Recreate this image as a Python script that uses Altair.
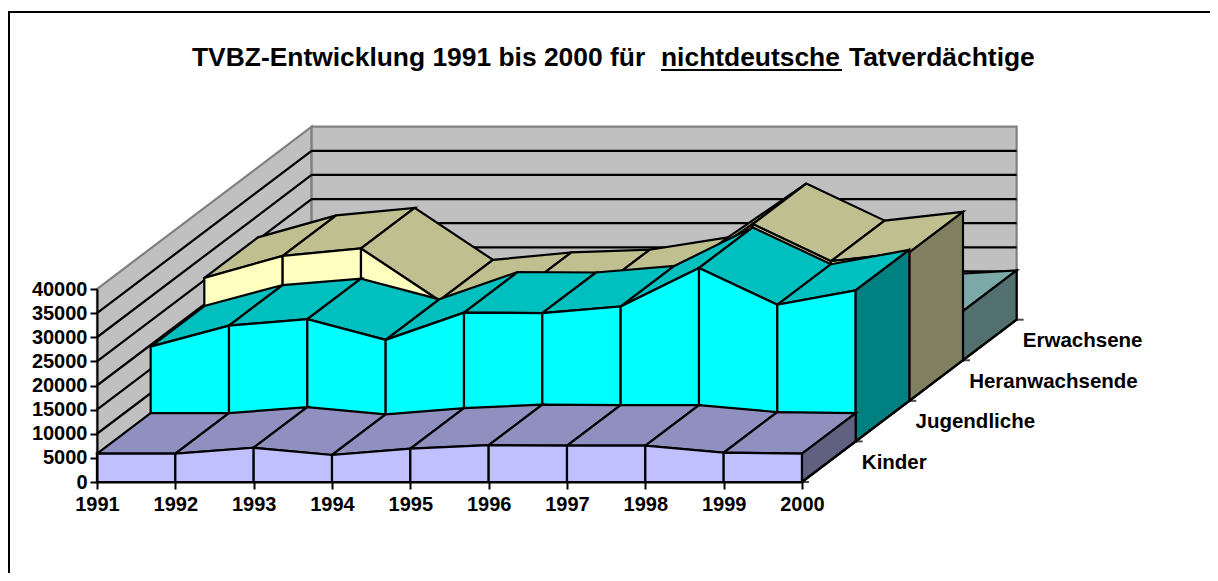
import altair as alt
import pandas as pd

years = [1991, 1992, 1993, 1994, 1995, 1996, 1997, 1998, 1999, 2000]
kinder = [5870, 5870, 7100, 5600, 6900, 7630, 7520, 7520, 6070, 5870]
jugendliche = [19650, 24000, 25340, 21040, 26700, 26600, 27960, 35950, 28320, 31300]
heranwachsende = [25470, 30040, 31580, 20800, 22350, 22900, 25470, 36630, 28940, 30750]
erwachsene = [8500, 8800, 9000, 8600, 8400, 8300, 8500, 9000, 9270, 10200]
series_names = ["Kinder", "Jugendliche", "Heranwachsende", "Erwachsene"]
series_values = [kinder, jugendliche, heranwachsende, erwachsene]
front_colors = ["#C0C0FF", "#00FFFF", "#FFFFC0", "#A6E0E0"]
top_colors = ["#9090C0", "#00BFBF", "#BFBF90", "#7CA8A8"]
side_colors = ["#606080", "#008080", "#808060", "#537070"]
y_ticks = [0, 5000, 10000, 15000, 20000, 25000, 30000, 35000, 40000]

# One depth step of the oblique projection, in axis units
DX = 0.685
DY = 8410
W, H = 705, 193
X0, Y0 = 97, 289
FONT = "Liberation Sans"
RIGHT_EDGE, BOTTOM_EDGE = 1210, 573


def proj(year, value, depth):
    return year + depth * DX, value + depth * DY


polys = []
poly_id = [0]


def add(fill, stroke, *pts):
    pts = list(pts) + [pts[0]]
    for i, (yr, val, d) in enumerate(pts):
        px, py = proj(yr, val, d)
        polys.append(dict(pid=poly_id[0], v=i, x=px, y=py, fill=fill, stroke=stroke))
    poly_id[0] += 1


a, b = years[0], years[-1]
# walls
add("#C0C0C0", "#808080", (a, 0, 0), (a, 40000, 0), (a, 40000, 4), (a, 0, 4))
add("#C0C0C0", "#808080", (a, 0, 4), (a, 40000, 4), (b, 40000, 4), (b, 0, 4))
wall_count = poly_id[0]
# series back to front
for k in [3, 2, 1, 0]:
    vals = series_values[k]
    for i in range(len(years) - 1):
        y1, y2, v1, v2 = years[i], years[i + 1], vals[i], vals[i + 1]
        add(top_colors[k], "#000000", (y1, v1, k), (y2, v2, k), (y2, v2, k + 1), (y1, v1, k + 1))
        add(front_colors[k], "#000000", (y1, 0, k), (y1, v1, k), (y2, v2, k), (y2, 0, k))
    add(side_colors[k], "#000000", (b, 0, k), (b, vals[-1], k), (b, vals[-1], k + 1), (b, 0, k + 1))

df = pd.DataFrame(polys)
walls_df = df[df.pid < wall_count]
body_df = df[df.pid >= wall_count]

xs = alt.Scale(domain=[1991, 2000], nice=False, zero=False)
ys = alt.Scale(domain=[0, 40000], nice=False, zero=False)
X = alt.X("x:Q", scale=xs, axis=alt.Axis(values=years, format="d", title=None, grid=False, tickSize=7,
                                         tickWidth=2, domainWidth=2, domainColor="#000", tickColor="#000",
                                         labelFont=FONT, labelFontWeight="bold", labelFontSize=20,
                                         labelColor="#000", labelPadding=5, labelFlush=False, zindex=1))
Y = alt.Y("y:Q", scale=ys, axis=alt.Axis(values=y_ticks, format="d", title=None, grid=False, tickSize=7,
                                         tickWidth=2, domainWidth=2, domainColor="#000", tickColor="#000",
                                         labelFont=FONT, labelFontWeight="bold", labelFontSize=20,
                                         labelColor="#000", labelPadding=3, zindex=1))


def polylayer(data, width):
    return alt.Chart(data).mark_line(strokeWidth=width, interpolate="linear", strokeJoin="miter", strokeCap="square").encode(
        x=X, y=Y,
        detail="pid:N", order="v:Q",
        fill=alt.Fill("fill:N", scale=None),
        stroke=alt.Stroke("stroke:N", scale=None),
    )


grid_rows = []
for t in y_ticks[1:-1]:
    pts = [proj(a, t, 0), proj(a, t, 4), proj(b, t, 4)]
    for i, (px, py) in enumerate(pts):
        grid_rows.append(dict(t=t, v=i, x=px, y=py))
grid = alt.Chart(pd.DataFrame(grid_rows)).mark_line(color="#000", strokeWidth=2.2).encode(
    x=X, y=Y, detail="t:N", order="v:Q")

# depth axis with ticks and category labels
dax_rows = [dict(x=proj(b, 0, 0)[0], y=proj(b, 0, 0)[1], v=0), dict(x=proj(b, 0, 4)[0], y=proj(b, 0, 4)[1], v=1)]
dax = alt.Chart(pd.DataFrame(dax_rows)).mark_line(color="#000", strokeWidth=2.2).encode(x=X, y=Y, order="v:Q")
tick_df = pd.DataFrame([dict(x=proj(b, 0, d)[0], y=proj(b, 0, d)[1]) for d in range(5)])
dticks = alt.Chart(tick_df).mark_tick(color="#000", thickness=2, size=7, orient="horizontal", xOffset=3.5).encode(x=X, y=Y)
lab_df = pd.DataFrame([dict(x=proj(b, 0, d + 0.5)[0], y=proj(b, 0, d + 0.5)[1], t=n) for d, n in enumerate(series_names)])
dlabels = alt.Chart(lab_df).mark_text(font=FONT, fontWeight="bold", fontSize=20.5, align="left",
                                      baseline="middle", dx=33, dy=1, color="#000").encode(x=X, y=Y, text="t:N")

# frame (open at right and bottom, as cropped in the reference) and title
one = pd.DataFrame({"a": [0]})
frame_top = alt.Chart(one).mark_rule(color="#000", strokeWidth=2).encode(
    x=alt.value(8 - X0), x2=alt.value(RIGHT_EDGE - X0), y=alt.value(12 - Y0))
frame_left = alt.Chart(one).mark_rule(color="#000", strokeWidth=2).encode(
    x=alt.value(9 - X0), y=alt.value(12 - Y0), y2=alt.value(BOTTOM_EDGE - Y0))


def title_part(text, px):
    return alt.Chart(pd.DataFrame({"t": [text]})).mark_text(
        font=FONT, fontWeight="bold", fontSize=26.4, align="left", baseline="alphabetic", color="#000"
    ).encode(x=alt.value(px - X0), y=alt.value(66 - Y0), text="t:N")


t1 = title_part("TVBZ-Entwicklung 1991 bis 2000 für", 192)
t2 = title_part("nichtdeutsche", 661)
t3 = title_part("Tatverdächtige", 849)
underline = alt.Chart(one).mark_rule(color="#000", strokeWidth=2).encode(
    x=alt.value(661 - X0), x2=alt.value(842 - X0), y=alt.value(70 - Y0))

chart = alt.layer(
    frame_top, frame_left, polylayer(walls_df, 2.2), grid, polylayer(body_df, 2.2),
    dax, dticks, dlabels, t1, t2, t3, underline
).resolve_scale(x="shared", y="shared").properties(
    width=W, height=H, autosize=alt.AutoSizeParams(type="none"),
    padding={"left": X0 - 8, "top": Y0 - 8, "right": RIGHT_EDGE - X0 - W, "bottom": BOTTOM_EDGE - Y0 - H},
).configure_view(stroke=None).configure(background="#FFFFFF")

chart.save("out.html", embed_options={"renderer": "svg", "actions": False})
